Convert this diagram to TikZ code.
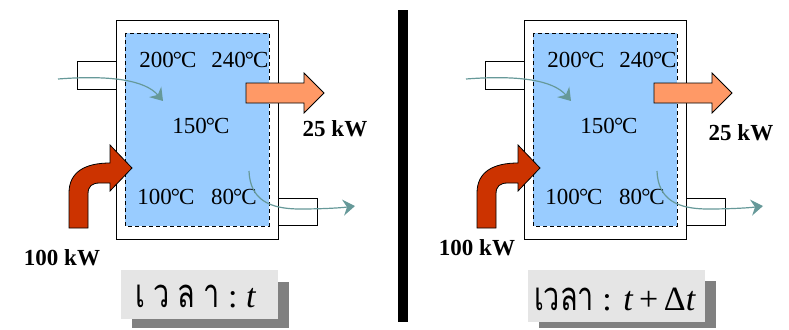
\documentclass[tikz,border=0pt]{standalone}
\usepackage{fontspec}
\setmainfont{Liberation Serif}
\newfontfamily\thaifont[Script=Thai,FakeStretch=0.72]{Loma}
\usetikzlibrary{arrows.meta}
\definecolor{tankblue}{HTML}{99CCFF}
\definecolor{heatred}{HTML}{CC3300}
\definecolor{lossorange}{HTML}{FF9966}
\definecolor{flowteal}{HTML}{669999}
\newcommand\thaisize{\fontsize{40}{44}\selectfont}
\tikzset{
  temp/.style={anchor=base, inner sep=0pt, font=\fontsize{23}{27}\selectfont},
  power/.style={anchor=base, inner sep=0pt, font=\fontsize{23}{27}\selectfont\bfseries},
  flow/.style={flowteal, line width=1.2pt, -{Stealth[length=12pt,width=16pt,inset=4pt]}},
  port/.style={draw, fill=white, line width=0.9pt},
  caption/.style={anchor=base, inner sep=0pt, font=\fontsize{34}{38}\selectfont},
}
\begin{document}
\begin{tikzpicture}[x=1pt, y=-1pt]
    \useasboundingbox (0,0) rectangle (789,329);

    % Same tank at two moments
    \foreach \dx/\pn in {0/a, 408/b} {
        \begin{scope}[xshift=\dx]
            % ports and tank wall
            \draw[port] (77,61) rectangle (116,89);
            \draw[port] (278,198) rectangle (317,225);
            \draw[port] (116,20) rectangle (278,239);
            \draw[fill=tankblue, line width=0.8pt, dash pattern=on 4pt off 3pt] (125,33) rectangle (269,226);

            % temperatures
            \node[temp] (tl\pn) at (168,67) {200\kern-1pt°\kern-1pt C};
            \node[temp] (tr\pn) at (240,67) {240\kern-1pt°\kern-1pt C};
            \node[temp] (tm\pn) at (201,133) {150\kern-1pt°\kern-1pt C};
            \node[temp] (bl\pn) at (166,204) {100\kern-1pt°\kern-1pt C};
            \node[temp] (br\pn) at (234,204) {80\kern-1pt°\kern-1pt C};

            % fluid in and out
            \draw[flow] (58,79) .. controls (110,75) and (145,80) .. (163,101);
            \draw[flow] (249,171) .. controls (250,200) and (270,209) .. (300,209)
                .. controls (320,209) and (340,208) .. (355,206);

            % heat lost
            \draw[fill=lossorange, line width=0.8pt] (246,83) -- (304,83) -- (304,73) -- (324,93)
                -- (304,113) -- (304,103) -- (246,103) -- cycle;

            % heat supplied
            \draw[fill=heatred, line width=0.8pt] (69,228) -- (69,193)
                .. controls (69,172) and (85,163) .. (110,163) -- (110,145) -- (132,168)
                -- (110,191) -- (110,183) -- (100,183)
                .. controls (92,183) and (88,186) .. (88,194) -- (88,228) -- cycle;
        \end{scope}
    }

    % heat rates
    \node[power] (outa) at (335,136) {25 kW};
    \node[power] (ina) at (62,265) {100 kW};
    \node[power] (outb) at (741,140) {25 kW};
    \node[power] (inb) at (477,255) {100 kW};

    % divider
    \fill (398,10) rectangle (408,322);

    % time captions
    \fill[gray] (132,282) rectangle (289,328);
    \fill[gray!20] (121,270) rectangle (278,319);
    \node[caption] (timea) at (196,307) {{\thaisize\thaifont\addfontfeature{LetterSpace=20}เวลา}\ :\ \textit{t}};

    \fill[gray] (539,281) rectangle (716,328);
    \fill[gray!20] (528,270) rectangle (705,322);
    \node[caption] (timeb) at (615,310) {{\thaisize\thaifont เวลา} : \textit{t}\,+\,Δ\textit{t}};
\end{tikzpicture}
\end{document}
